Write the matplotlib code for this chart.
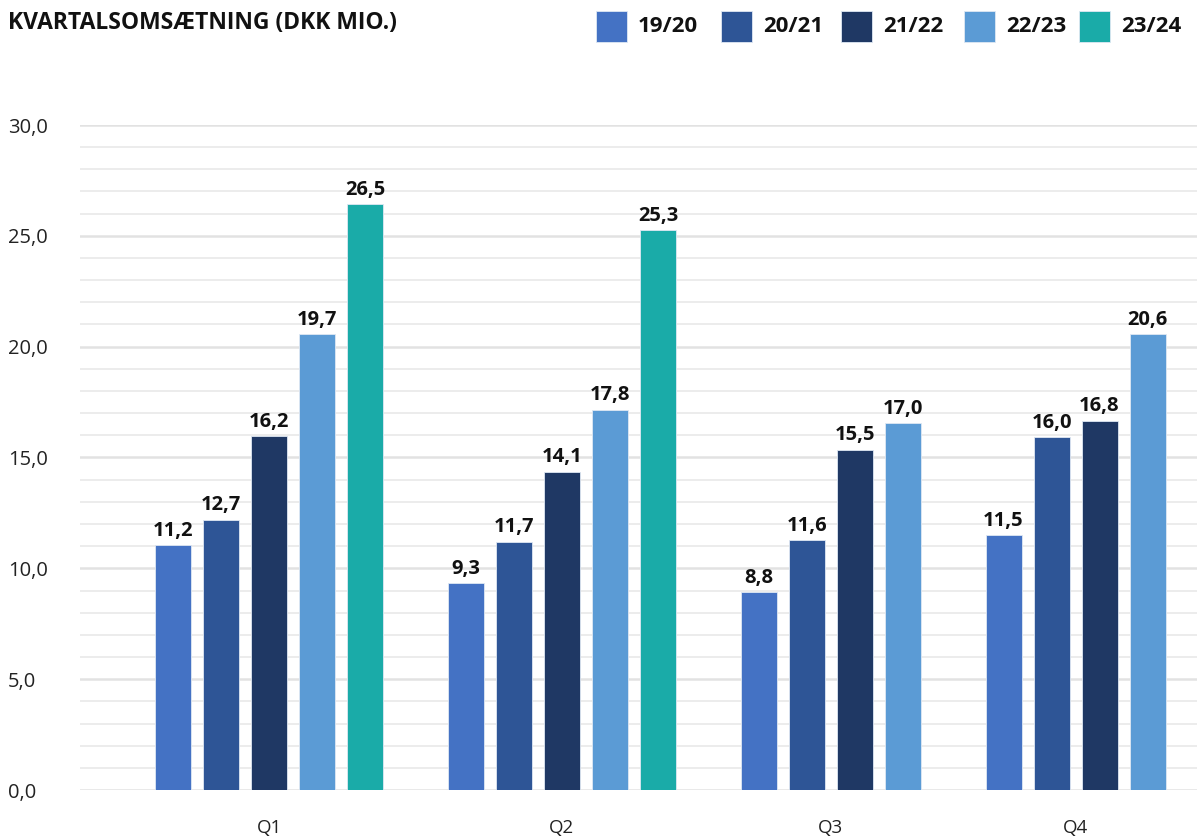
import matplotlib.pyplot as plt
from matplotlib.patches import Rectangle
from matplotlib.ticker import MultipleLocator

plt.rcParams["font.family"] = ["Open Sans", "DejaVu Sans"]

# Data (bar heights as drawn, labels as printed)
quarters = ["Q1", "Q2", "Q3", "Q4"]
seasons = ["19/20", "20/21", "21/22", "22/23", "23/24"]
colors = ["#4472C4", "#2E5596", "#1F3864", "#5B9BD5", "#1AABA8"]

heights = {
    "Q1": [11.05, 12.2, 15.97, 20.57, 26.43],
    "Q2": [9.34, 11.2, 14.35, 17.15, 25.26],
    "Q3": [8.93, 11.28, 15.35, 16.55],
    "Q4": [11.49, 15.91, 16.66, 20.57],
}
labels = {
    "Q1": ["11,2", "12,7", "16,2", "19,7", "26,5"],
    "Q2": ["9,3", "11,7", "14,1", "17,8", "25,3"],
    "Q3": ["8,8", "11,6", "15,5", "17,0"],
    "Q4": ["11,5", "16,0", "16,8", "20,6"],
}

fig = plt.figure(figsize=(11.97, 8.38), dpi=100)
ax = fig.add_axes([80 / 1197, 1 - 790 / 838, 1 - 80 / 1197, (790 - 125) / 838])

group_gap = 2.1
width = 0.75
x = 0.0
tick_pos = []
for q in quarters:
    xs = []
    for i, (h, lab) in enumerate(zip(heights[q], labels[q])):
        ax.bar(x, h, width=width, color=colors[i], edgecolor="#dfe8f3",
               linewidth=0.6, zorder=3)
        ax.text(x, h + 0.2, lab, ha="center", va="bottom", fontsize=14.5,
                fontweight="bold", color="#111111", zorder=4)
        xs.append(x)
        x += 1
    tick_pos.append((xs[0] + xs[-1]) / 2)
    x = xs[-1] + group_gap

ax.set_xlim(-1.94, 21.33)
ax.set_ylim(0, 30)
ax.set_xticks(tick_pos)
ax.set_xticklabels(quarters, fontsize=13.5, color="#222222")
ax.tick_params(axis="x", length=0, pad=21)

ax.yaxis.set_major_locator(MultipleLocator(5))
ax.yaxis.set_minor_locator(MultipleLocator(1))
ax.set_yticks(range(0, 31, 5))
ax.set_yticklabels([f"{v},0" for v in range(0, 31, 5)], fontsize=14.5,
                   color="#222222", ha="left")
ax.tick_params(axis="y", which="both", length=0, pad=52)
ax.grid(axis="y", which="major", color="#e2e2e2", linewidth=1.8, zorder=0)
ax.grid(axis="y", which="minor", color="#eaeaea", linewidth=1.3, zorder=0)
for s in ax.spines.values():
    s.set_visible(False)

# Title
fig.text(8 / 1197, 1 - 23 / 838, "KVARTALSOMSÆTNING (DKK MIO.)", fontsize=16.5,
         fontweight="bold", color="#111111", ha="left", va="center")

# Legend
sq_x = [596, 721, 841, 964, 1079]
for sx, c, s in zip(sq_x, colors, seasons):
    fig.patches.append(Rectangle((sx / 1197, 1 - 42 / 838), 31 / 1197, 31 / 838,
                                 transform=fig.transFigure, facecolor=c,
                                 edgecolor="#dfe8f3", linewidth=0.6))
    fig.text((sx + 42) / 1197, 1 - 27 / 838, s, fontsize=16, fontweight="bold",
             color="#111111", ha="left", va="center")

fig.savefig("out.png", dpi=100)
